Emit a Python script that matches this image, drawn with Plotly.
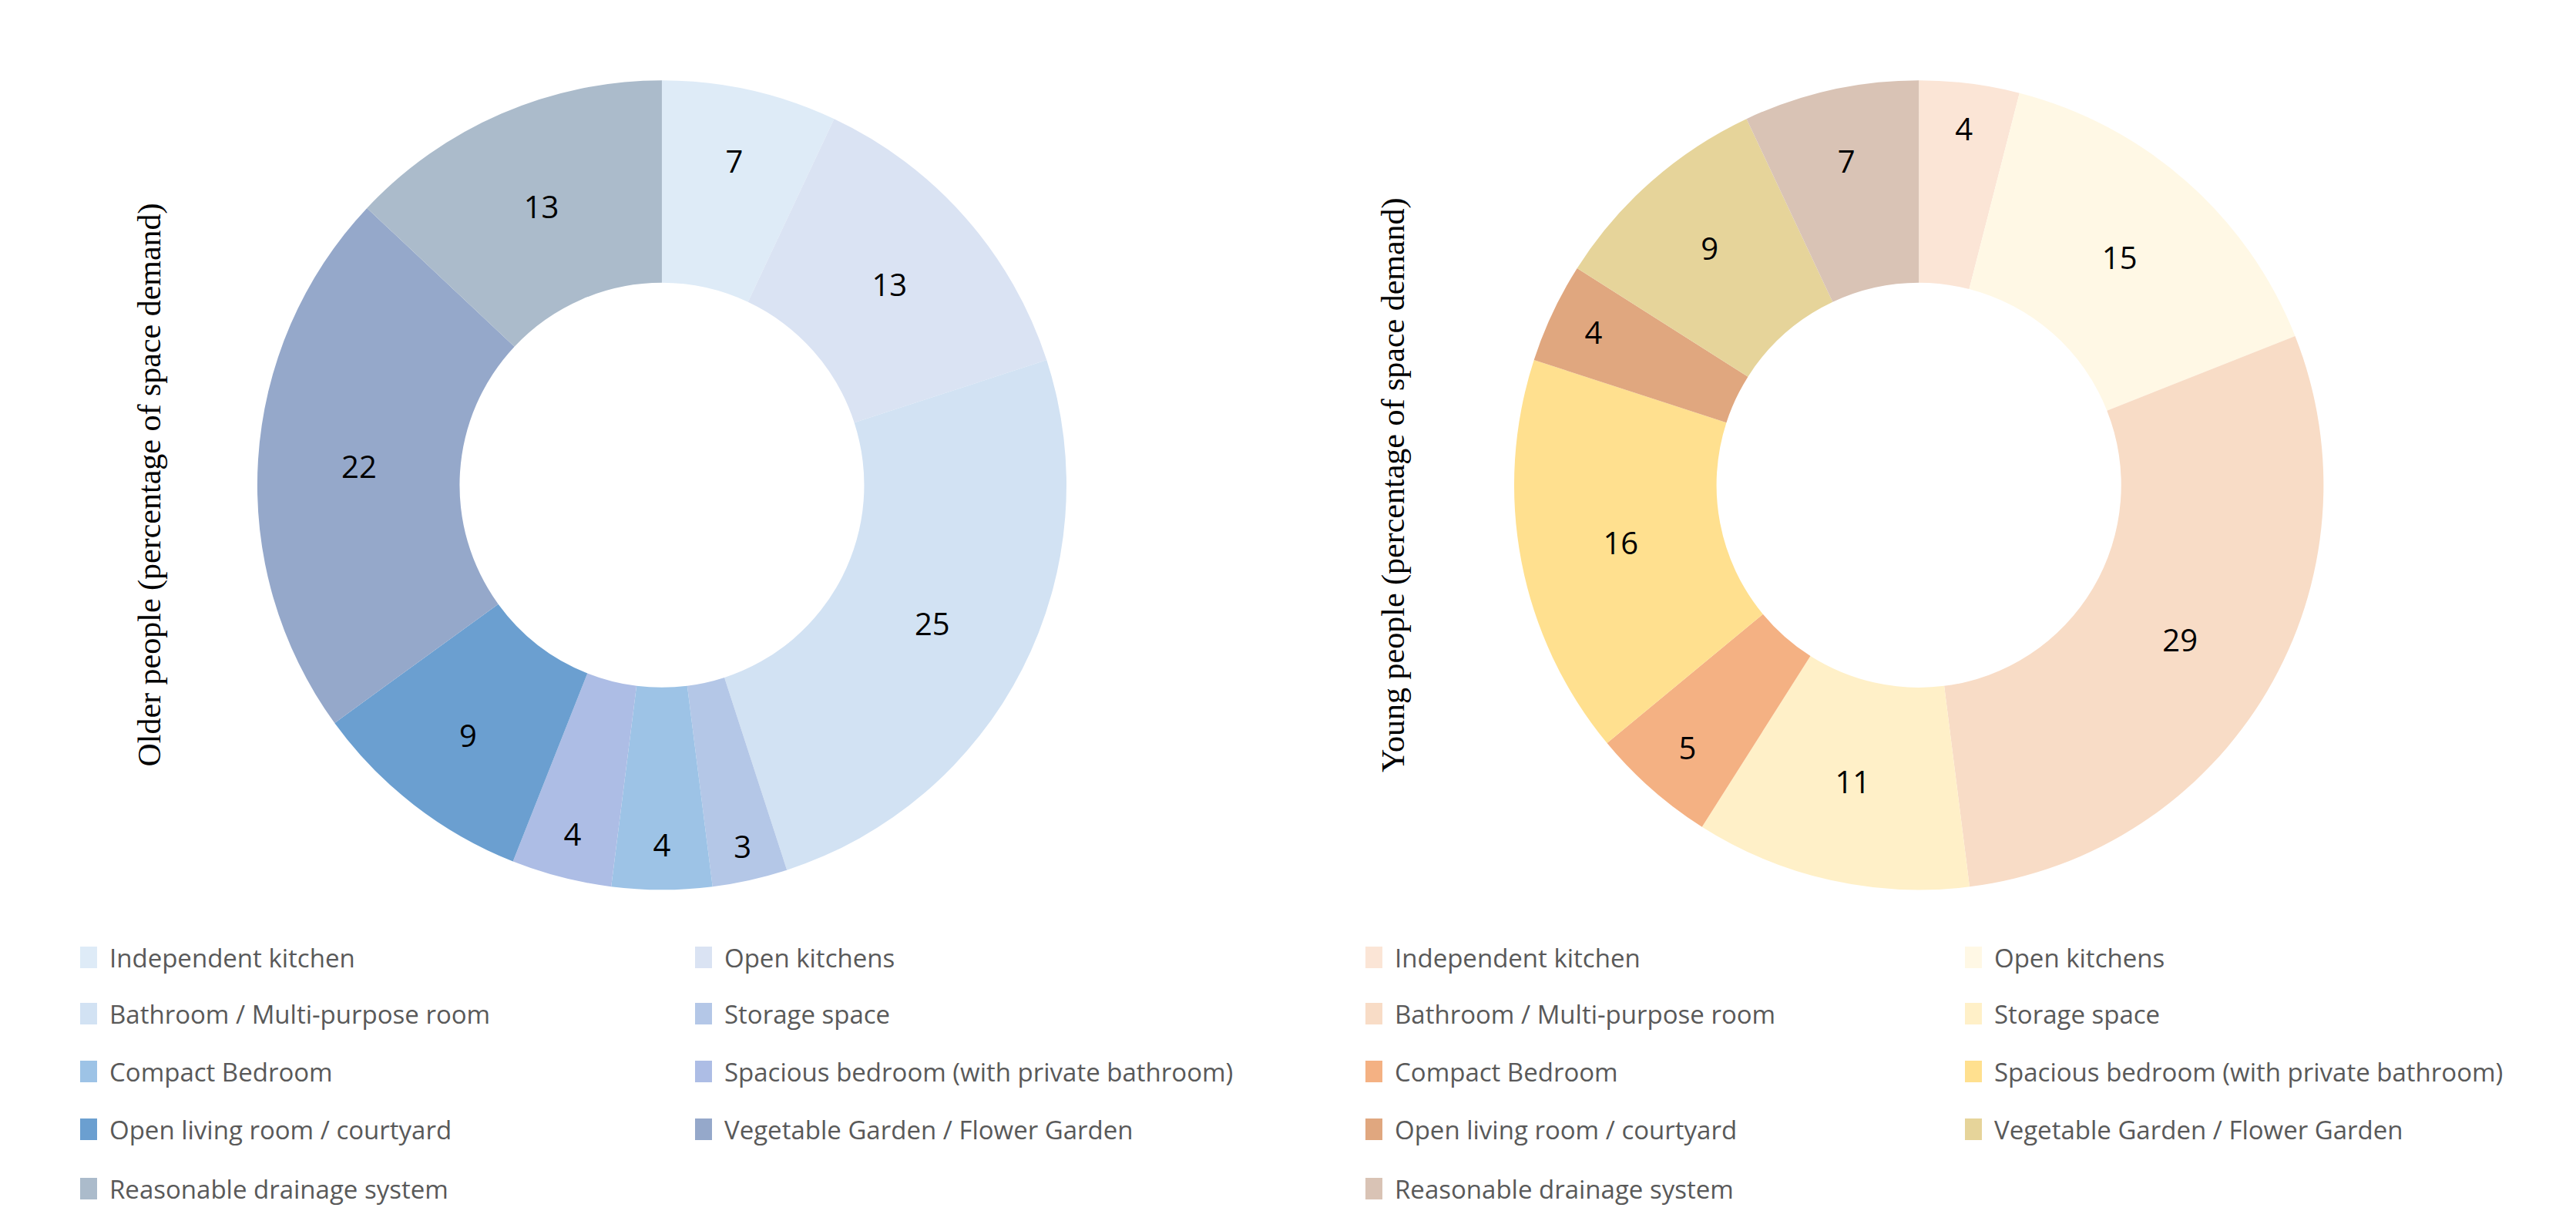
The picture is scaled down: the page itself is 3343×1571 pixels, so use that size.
import plotly.graph_objects as go

labels = ["Independent kitchen", "Open kitchens", "Bathroom / Multi-purpose room", "Storage space",
          "Compact Bedroom", "Spacious bedroom (with private bathroom)", "Open living room / courtyard",
          "Vegetable Garden / Flower Garden", "Reasonable drainage system"]
older = [7, 13, 25, 3, 4, 4, 9, 22, 13]
young = [4, 15, 29, 11, 5, 16, 4, 9, 7]
older_colors = ["#deebf7", "#dae3f3", "#d2e2f3", "#b4c7e7", "#9dc3e6", "#adbde5", "#6b9fd0", "#95a8ca", "#abbbcb"]
young_colors = ["#fbe5d6", "#fff8e5", "#f8dcc6", "#fff0c8", "#f4b183", "#ffe08f", "#e0a77f", "#e6d49a", "#d9c3b5"]

W, H = 3343, 1571
fig = go.Figure()
for vals, cols, dx in [(older, older_colors, (0.0975, 0.4116)), (young, young_colors, (0.5854, 0.8996))]:
    fig.add_trace(go.Pie(labels=labels, values=vals, hole=0.5, sort=False, direction="clockwise",
                         rotation=0, marker=dict(colors=cols, line=dict(width=0)),
                         textinfo="value", textposition="inside", insidetextorientation="horizontal",
                         textfont=dict(size=40, color="#000000", family="Open Sans"),
                         domain=dict(x=list(dx), y=[0.27, 0.939]), showlegend=False))

# y titles
for txt, x in [("Older people (percentage of space demand)", 161), ("Young people (percentage of space demand)", 1800)]:
    fig.add_annotation(text=txt, x=x / W, y=0.6047, xref="paper", yref="paper", textangle=-90,
                       showarrow=False, font=dict(size=42, family="Liberation Serif", color="#000000"))

# custom legends
rows = [1234, 1307, 1382, 1457, 1534]
groups = [(older_colors, [96, 894]), (young_colors, [1764, 2542])]
for cols, xs in groups:
    for i, lab in enumerate(labels):
        r, c = divmod(i, 2)
        mx = xs[c]
        my = rows[r]
        fig.add_shape(type="rect", xref="paper", yref="paper", x0=mx / W, x1=(mx + 22) / W,
                      y0=1 - (my + 14) / H, y1=1 - (my - 14) / H, fillcolor=cols[i], line=dict(width=0))
        fig.add_annotation(text=lab, x=(mx + 36) / W, y=1 - my / H, xref="paper", yref="paper",
                           xanchor="left", yanchor="middle", showarrow=False,
                           font=dict(size=33, family="Open Sans", color="#595959"))

fig.update_layout(width=W, height=H, margin=dict(l=0, r=0, t=0, b=0),
                  paper_bgcolor="white", plot_bgcolor="white")
fig.write_html("out.html")
